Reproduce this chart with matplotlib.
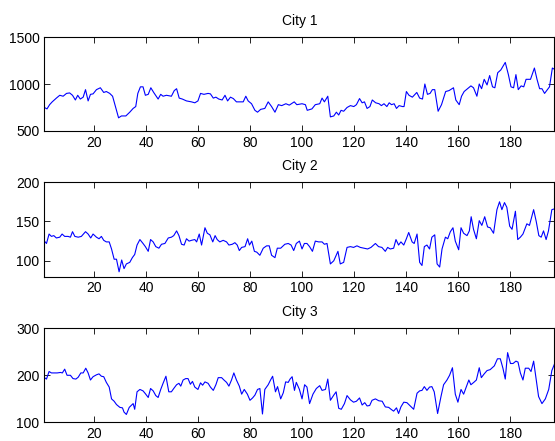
import numpy as np
import matplotlib
matplotlib.use('Agg')
import matplotlib.pyplot as plt

plt.rcParams['font.family'] = ['Liberation Sans', 'DejaVu Sans']
plt.rcParams['font.size'] = 10

# ============================================================
# data (day index, value)
# ============================================================
day1 = [1, 2, 3, 4, 5.6, 6.9, 8.2, 9.5, 10.7, 11.8, 12.9, 13.8, 14.8, 15.9, 16.8, 17.8, 18.7, 19.7,
        21, 22.5, 23.8, 24.8, 26.1, 27.2, 28.3, 29.5, 30.6, 32.3, 33.8, 35.1, 36.1, 36.9, 37.9, 38.9,
        39.8, 40.9, 41.9, 43, 44.7, 45.7, 46.6, 47.9, 49.8, 50.9, 51.8, 52.8, 54, 55.6, 57.5, 58.8,
        60, 61, 62.3, 63.9, 64.8, 65.9, 66.9, 68, 69.3, 70.4, 71.4, 72.5, 73.6, 74.8, 76.1, 77.4,
        78.4, 79.3, 80.6, 81.9, 82.9, 84.1, 85.7, 87, 88.3, 89.6, 90.9, 92.2, 93.8, 95.1,
        97, 98, 100, 101.3, 102, 103.8, 105.1, 106.8, 107.7, 108.6, 109.9, 110.9, 112.2, 113.2,
        114.1, 115, 116, 117.3, 118.6, 119.9, 120.9, 122.1, 123.1, 124, 125, 126.1, 127, 128.3,
        129.6, 130.5, 131.5, 132.6, 133.5, 134.4, 135.4, 136.3, 137.3, 138.6, 139.2, 140.1, 141.1,
        142.4, 144.1, 145.2, 146.3, 147.2, 148.2, 149.2, 150.1, 151, 152.3, 153.6, 155.2, 156.5,
        158.2, 159.1, 160.4, 161.3, 162.3, 163.6, 164.9, 165.9, 167.2, 168.1, 169, 170, 171.1,
        172.1, 173.2, 174.1, 175.2, 176.4, 178.1, 179.3, 180.3, 181.3, 182.2, 183.1, 184.2, 185.2,
        186.1, 187.8, 189.3, 190.3, 191.3, 192.2, 193.2, 195.1, 196.2, 197.4]
city1 = [750, 735, 780, 810, 850, 880, 870, 900, 905, 880, 830, 880, 840, 860, 940, 820, 890, 895,
         940, 960, 910, 920, 900, 870, 760, 640, 660, 660, 700, 740, 760, 900, 970, 970,
         880, 890, 960, 910, 840, 890, 870, 880, 870, 930, 950, 850, 840, 820, 810, 800,
         820, 900, 890, 900, 895, 850, 860, 840, 830, 880, 820, 860, 845, 810, 810, 810,
         870, 820, 790, 720, 700, 730, 740, 810, 760, 700, 780, 770, 790, 775,
         810, 780, 790, 780, 720, 735, 780, 790, 850, 810, 870, 650, 660, 700,
         670, 720, 710, 750, 770, 760, 780, 845, 800, 810, 740, 760, 830, 800,
         790, 770, 790, 760, 800, 780, 790, 740, 770, 760, 760, 920, 880,
         860, 910, 850, 840, 1000, 890, 900, 940, 940, 710, 780, 920, 930,
         960, 830, 780, 870, 920, 950, 980, 960, 870, 1000, 950, 1050, 990,
         1090, 970, 960, 1120, 1150, 1230, 1100, 970, 960, 1100, 940, 980, 970,
         1050, 1050, 1170, 1050, 950, 950, 900, 970, 1170, 1150]

day2 = [1, 1.8, 2.8, 3.7, 4.6, 5.6, 6.9, 7.8, 8.8, 10.1, 11, 11.8, 12.7, 14, 15.2, 16.8, 17.8, 18.8,
        19.7, 21, 22, 22.9, 23.8, 24.8, 25.9, 26.8, 27.8, 28.7, 29.7, 30.7, 31.6, 32.5, 33.8, 34.8,
        35.7, 36.6, 37.7, 38.9, 39.8, 40.9, 41.8, 42.8, 43.8, 45, 46, 47.3, 48.6, 49.8, 50.7, 51.8,
        52.7, 53.7, 54.7, 55.6, 56.6, 57.5, 58.8, 59.5, 60.5, 61.4, 62.7, 63.6, 64.6, 65.7, 66.6,
        67.4, 68.4, 69.7, 71, 71.9, 73.2, 74.2, 75.1, 75.9, 76.8, 78.1, 79.1, 79.8, 80.7, 81.7,
        82.6, 83.8, 85.1, 86.4, 87.4, 88.3, 89.6, 90.5, 91.8, 93.4, 94.7, 95.8, 96.8, 97.8, 99,
        100, 100.9, 101.9, 102.9, 104, 105.1, 106.4, 107.7, 108.6, 109.6, 110.9, 112.2, 113.8,
        114.7, 116, 117.3, 118.6, 119.8, 121.1, 122.4, 123.9, 125.2, 126.5, 128.2, 129.4, 130.7,
        132, 132.9, 133.9, 135.2, 136.1, 137.1, 138, 139.1, 140.1, 141, 142.3, 143.1, 144.2,
        145.2, 146.1, 147, 148, 149, 149.9, 151, 151.9, 152.9, 153.8, 155.1, 156, 157, 158,
        158.9, 160.2, 161.1, 162.1, 163.4, 164.3, 165, 165.9, 167, 168.1, 169.1, 170.2, 171.3,
        172.3, 173.6, 174.9, 175.9, 176.8, 177.8, 178.7, 179.8, 180.7, 182, 182.9, 183.9, 184.9,
        185.8, 186.4, 187.4, 189, 190, 191, 191.9, 192.8, 193.8, 194.7, 196, 197]
city2 = [125, 122, 134, 131, 132, 129, 130, 134, 131, 131, 130, 137, 131, 130, 131, 137, 134, 129,
         134, 130, 128, 131, 126, 124, 124, 115, 102, 102, 86, 101, 90, 96, 98, 104,
         108, 120, 127, 122, 118, 112, 127, 124, 118, 116, 121, 122, 129, 130, 132, 138,
         132, 121, 120, 128, 125, 126, 127, 124, 134, 120, 142, 135, 133, 124, 132,
         127, 124, 126, 124, 120, 121, 123, 120, 113, 117, 118, 128, 120, 125, 112,
         111, 107, 116, 119, 119, 107, 104, 116, 116, 121, 122, 120, 113, 122, 125,
         115, 122, 122, 118, 112, 125, 124, 124, 121, 122, 96, 100, 112,
         96, 98, 117, 118, 117, 119, 117, 116, 115, 117, 122, 118, 117,
         112, 117, 115, 116, 127, 120, 124, 120, 128, 136, 124, 122, 134,
         98, 94, 118, 120, 115, 130, 133, 96, 92, 115, 130, 128, 137, 142,
         125, 114, 142, 135, 132, 138, 156, 140, 128, 151, 145, 156, 143,
         142, 135, 165, 175, 165, 174, 168, 144, 140, 163, 127, 130, 134,
         142, 147, 145, 165, 150, 132, 130, 138, 127, 138, 165, 166]

day3 = [1, 1.8, 2.8, 3.7, 4.6, 5.9, 7.2, 7.9, 8.8, 9.7, 11, 12, 13.1, 14, 15, 15.9, 16.9, 17.8,
        18.7, 19.7, 21, 22, 22.9, 23.8, 24.8, 25.9, 26.8, 27.8, 28.7, 30, 31, 31.6, 32.5, 33.6,
        34.5, 35.1, 35.7, 36.6, 37.7, 38.9, 39.8, 40.9, 41.8, 42.8, 43.8, 44.7, 45.7, 46.6, 47.7,
        48.8, 49.8, 50.7, 51.8, 52.7, 53.4, 54.3, 55.3, 56.2, 57.1, 57.9, 58.8, 60, 61, 61.8, 62.7,
        63.9, 64.8, 65.9, 66.9, 67.8, 69.1, 70, 71, 71.9, 72.9, 73.8, 74.8, 75.9, 76.8, 77.8, 79,
        80, 81, 81.9, 82.9, 83.8, 84.8, 85.7, 87, 87.9, 88.7, 89.8, 90.6, 91.8, 92.8, 93.7, 94.7,
        95.4, 96.2, 97.1, 97.8, 99, 100, 101, 101.9, 102.9, 104.2, 105.5, 106.8, 107.7, 109,
        109.9, 110.9, 112.2, 113.1, 114.1, 115.1, 116.3, 117.3, 118.6, 119.8, 120.9, 122.1, 123.1,
        124.1, 125, 126, 126.9, 128.2, 129.5, 130.8, 132, 133.3, 134.2, 135.2, 136.3, 137.1, 138,
        139.1, 140.3, 141.6, 142.9, 144.2, 145.2, 146.1, 147, 148, 149, 149.9, 150.8, 152.1,
        153.4, 154.4, 155.7, 156.7, 157.8, 158.9, 159.9, 161.1, 162.1, 163.1, 164.1, 164.9, 166,
        167, 168.1, 168.9, 170, 171.1, 172.3, 173.9, 175.1, 176.2, 177.2, 178.1, 179, 180.1,
        181.1, 182.2, 183, 183.9, 184.9, 185.8, 187.1, 188, 189, 190, 190.9, 192.2, 193.5,
        194.8, 196, 197.1]
city3 = [195, 192, 208, 205, 205, 205, 206, 205, 213, 200, 200, 193, 192, 196, 205, 205, 215, 205,
         190, 197, 201, 203, 198, 197, 185, 175, 150, 145, 138, 132, 131, 122, 117, 132,
         137, 140, 128, 165, 170, 167, 161, 153, 172, 167, 157, 153, 170, 183, 198,
         165, 165, 172, 180, 183, 177, 190, 193, 193, 181, 187, 175, 170, 184, 179, 186,
         183, 175, 168, 180, 195, 195, 190, 185, 177, 190, 205, 190, 177, 160, 170, 160,
         147, 152, 158, 170, 172, 118, 170, 180, 190, 198, 165, 176, 150, 163, 186, 185,
         192, 197, 168, 185, 170, 150, 180, 175, 140, 160, 172, 178, 168, 170,
         192, 147, 158, 165, 130, 128, 140, 157, 148, 143, 145, 152, 137,
         142, 135, 136, 147, 150, 146, 145, 133, 132, 128, 124, 131, 119, 133,
         143, 142, 135, 128, 162, 167, 168, 176, 168, 175, 176, 165, 119,
         155, 180, 190, 200, 216, 160, 143, 170, 160, 175, 190, 180, 185,
         190, 216, 195, 203, 210, 212, 220, 235, 235, 215, 192, 248, 225,
         225, 230, 228, 205, 190, 215, 215, 208, 230, 190, 155, 140, 150,
         170, 210, 225]

titles = ['City 1', 'City 2', 'City 3']
ylims = [(500, 1500), (80, 200), (100, 300)]
yticks = [[500, 1000, 1500], [100, 150, 200], [100, 200, 300]]
xticks = [20, 40, 60, 80, 100, 120, 140, 160, 180]

# ============================================================
# plot
# ============================================================
fig = plt.figure(figsize=(5.55, 4.41), dpi=100)
boxes = [[0.080, 0.703, 0.919, 0.213],
         [0.080, 0.373, 0.919, 0.214],
         [0.080, 0.042, 0.919, 0.214]]

for i, (d, v) in enumerate([(day1, city1), (day2, city2), (day3, city3)]):
    ax = fig.add_axes(boxes[i])
    ax.plot(d, v, color='blue', lw=0.8)
    ax.set_xlim(1, 197)
    ax.set_ylim(*ylims[i])
    ax.set_xticks(xticks)
    ax.set_yticks(yticks[i])
    ax.set_title(titles[i], fontsize=10, pad=9)
    ax.tick_params(direction='in', top=True, right=True, length=4, width=0.6, labelsize=10)
    for s in ax.spines.values():
        s.set_linewidth(0.8)

fig.savefig('out.png', dpi=100)
